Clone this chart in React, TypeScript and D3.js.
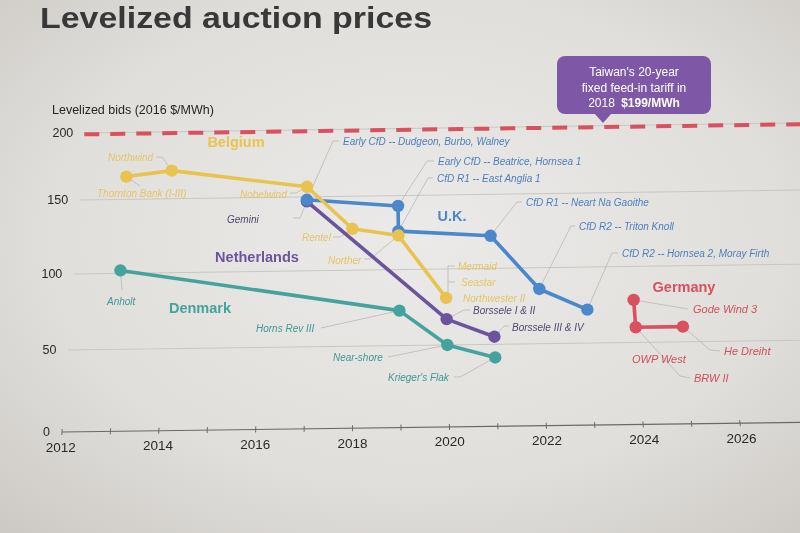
import React from "react";
import * as d3 from "d3";

// ---------- data ----------
const xTickYears = [2012, 2014, 2016, 2018, 2020, 2022, 2024, 2026];
const minorYears = d3.range(2012, 2027);
const yTicks = [0, 50, 100, 150, 200];
const taiwanTariff = 199;

const belgiumYears = [2013, 2014, 2017, 2018, 2019, 2020];
const belgiumValues = [167, 171, 157.5, 128, 123, 81];

const ukYears = [2017, 2019, 2019, 2021, 2022, 2023];
const ukValues = [148, 143, 126, 122, 86, 72];

const nlYears = [2017, 2020, 2021];
const nlValues = [147, 67, 55];

const dkYears = [2013, 2019, 2020, 2021];
const dkValues = [102, 73, 50, 42];

const deYears = [2024, 2024, 2025];
const deValues = [78, 60, 60];

// ---------- style ----------
const FONT = "'Liberation Sans', Arial, Helvetica, sans-serif";
const C = {
  belgium: "#E9C34F",
  belgiumText: "#E3C566",
  uk: "#4A87CB",
  ukText: "#4C7FBE",
  nl: "#6C549D",
  nlText: "#54466F",
  dk: "#44A39D",
  dkText: "#3E9893",
  de: "#D9505F",
  deText: "#D24E5C",
  callout: "#7E58A7",
};

// scales (value -> chart frame), then the photo's perspective
const x = d3.scaleLinear().domain([2012, 2026]).range([62, 740]);
const y = d3.scaleLinear().domain([0, 50, 100, 150, 200]).range([432, 350, 274, 200, 133]);

function proj(X: number, Y: number): [number, number] {
  const sx = X + (432 - Y) * (350 - X) * 0.00026;
  const sy = Y - (X - 62) * 0.013;
  return [sx, sy];
}
const P = (yr: number, v: number) => proj(x(yr), y(v));

type Series = { key: string; years: number[]; values: number[]; color: string };
const series: Series[] = [
  { key: "dk", years: dkYears, values: dkValues, color: C.dk },
  { key: "nl", years: nlYears, values: nlValues, color: C.nl },
  { key: "uk", years: ukYears, values: ukValues, color: C.uk },
  { key: "be", years: belgiumYears, values: belgiumValues, color: C.belgium },
  { key: "de", years: deYears, values: deValues, color: C.de },
];

type Ann = { t: string; lx: number; ly: number; c: string; s?: number; lead?: [number, number][]; k?: string; i?: number };
const anns: Ann[] = [
  { t: "Thornton Bank (I-III)", lx: 97, ly: 193, c: C.belgiumText, lead: [[140, 186]], k: "be", i: 0 },
  { t: "Northwind", lx: 108, ly: 157, c: C.belgiumText, lead: [[156, 157], [162, 157]], k: "be", i: 1 },
  { t: "Nobelwind", lx: 240, ly: 194, c: C.belgiumText, lead: [[290, 193], [296, 193]], k: "be", i: 2 },
  { t: "Rentel", lx: 302, ly: 237, c: C.belgiumText, lead: [[333, 237], [340, 237]], k: "be", i: 3 },
  { t: "Norther", lx: 328, ly: 260, c: C.belgiumText, lead: [[364, 259], [370, 259]], k: "be", i: 4 },
  { t: "Mermaid", lx: 458, ly: 266, c: C.belgiumText },
  { t: "Seastar", lx: 461, ly: 282, c: C.belgiumText },
  { t: "Northwester II", lx: 463, ly: 298.5, c: C.belgiumText },
  { t: "Early CfD -- Dudgeon, Burbo, Walney", lx: 343, ly: 141, c: C.ukText, lead: [[339, 141], [333, 141]], k: "uk", i: 0 },
  { t: "Early CfD -- Beatrice, Hornsea 1", lx: 438, ly: 161, c: C.ukText, lead: [[434, 161], [427, 161]], k: "uk", i: 1 },
  { t: "CfD R1 -- East Anglia 1", lx: 437, ly: 178, c: C.ukText, lead: [[433, 178], [428, 178]], k: "uk", i: 2 },
  { t: "CfD R1 -- Neart Na Gaoithe", lx: 526, ly: 202, c: C.ukText, lead: [[522, 202], [517, 202]], k: "uk", i: 3 },
  { t: "CfD R2 -- Triton Knoll", lx: 579, ly: 226, c: C.ukText, lead: [[575, 226], [571, 226]], k: "uk", i: 4 },
  { t: "CfD R2 -- Hornsea 2, Moray Firth", lx: 622, ly: 253, c: C.ukText, lead: [[618, 253], [612, 253]], k: "uk", i: 5 },
  { t: "Gemini", lx: 227, ly: 219, c: C.nlText, lead: [[293, 218], [300, 218]], k: "nl", i: 0 },
  { t: "Borssele I & II", lx: 473, ly: 310.5, c: C.nlText, lead: [[470, 310], [464, 310]], k: "nl", i: 1 },
  { t: "Borssele III & IV", lx: 512, ly: 327, c: C.nlText, lead: [[509, 326], [504, 326]], k: "nl", i: 2 },
  { t: "Anholt", lx: 107, ly: 301, c: C.dkText, lead: [[122, 290]], k: "dk", i: 0 },
  { t: "Horns Rev III", lx: 256, ly: 328, c: C.dkText, lead: [[321, 328]], k: "dk", i: 1 },
  { t: "Near-shore", lx: 333, ly: 357, c: C.dkText, lead: [[388, 357]], k: "dk", i: 2 },
  { t: "Krieger's Flak", lx: 388, ly: 377, c: C.dkText, lead: [[454, 377], [460, 377]], k: "dk", i: 3 },
  { t: "Gode Wind 3", lx: 693, ly: 309, c: C.deText, s: 11, lead: [[688, 309]], k: "de", i: 0 },
  { t: "OWP West", lx: 632, ly: 359, c: C.deText, s: 11 },
  { t: "BRW II", lx: 694, ly: 378, c: C.deText, s: 11, lead: [[690, 378], [680, 376]], k: "de", i: 1 },
  { t: "He Dreiht", lx: 724, ly: 351, c: C.deText, s: 11, lead: [[720, 351], [710, 350]], k: "de", i: 2 },
];

const countryLabels = [
  { t: "Belgium", cx: 236, cy: 142, c: C.belgium },
  { t: "U.K.", cx: 452, cy: 216, c: C.uk },
  { t: "Netherlands", cx: 257, cy: 257, c: C.nl },
  { t: "Denmark", cx: 200, cy: 308, c: C.dk },
  { t: "Germany", cx: 684, cy: 287, c: C.de },
];

export default function App() {
  const seriesByKey: Record<string, Series> = {};
  series.forEach((s) => (seriesByKey[s.key] = s));

  const line = d3
    .line<[number, number]>()
    .x((d) => proj(x(d[0]), y(d[1]))[0])
    .y((d) => proj(x(d[0]), y(d[1]))[1]);

  const hLine = (v: number, x0: number, x1: number) => {
    const a = proj(x0, y(v));
    const b = proj(x1, y(v));
    return { x1: a[0], y1: a[1], x2: b[0], y2: b[1] };
  };

  const leaderPath = (a: Ann) => {
    if (!a.lead || !a.k) return null;
    const s = seriesByKey[a.k];
    const p = P(s.years[a.i!], s.values[a.i!]);
    const pts: [number, number][] = [...a.lead, p];
    return d3.line()(pts);
  };

  const axis0 = hLine(0, 62, 860);

  return (
    <div style={{ position: "fixed", left: 0, top: 0, width: 800, height: 533 }}>
      <svg width={800} height={533} style={{ display: "block", fontFamily: FONT }}>
        <defs>
          <radialGradient id="bg" cx="52%" cy="45%" r="75%">
            <stop offset="0%" stopColor="#ebeae8" />
            <stop offset="60%" stopColor="#e1dfdc" />
            <stop offset="100%" stopColor="#cdcac5" />
          </radialGradient>
        </defs>
        <rect width={800} height={533} fill="url(#bg)" />

        {/* title */}
        <text x={40} y={28} fontSize={30} fontWeight="bold" fill="#383838" textLength={392} lengthAdjust="spacingAndGlyphs">
          Levelized auction prices
        </text>
        <text x={52} y={110} fontSize={12.5} fill="#262626" dominantBaseline="central">
          Levelized bids (2016 $/MWh)
        </text>

        {/* gridlines */}
        {yTicks.filter((v) => v > 0).map((v) => {
          const l = hLine(v, 62, 860);
          return <line key={"g" + v} {...l} stroke="#c9c7c3" strokeWidth={1} />;
        })}
        {/* x axis */}
        <line {...axis0} stroke="#6a6a6a" strokeWidth={1.2} />
        {minorYears.map((yr) => {
          const a = proj(x(yr), y(0) - 3);
          const b = proj(x(yr), y(0) + 3);
          return <line key={"t" + yr} x1={a[0]} y1={a[1]} x2={b[0]} y2={b[1]} stroke="#6a6a6a" strokeWidth={1} />;
        })}
        {xTickYears.map((yr) => {
          const p = proj(x(yr), 447);
          return (
            <text key={"xl" + yr} x={p[0]} y={p[1]} fontSize={13.5} fill="#2a2a2a" textAnchor="middle" dominantBaseline="central">
              {yr}
            </text>
          );
        })}
        {yTicks.map((v) => {
          const p = proj(50, y(v));
          return (
            <text key={"yl" + v} x={p[0]} y={p[1]} fontSize={12.5} fill="#2a2a2a" textAnchor="end" dominantBaseline="central">
              {v}
            </text>
          );
        })}

        {/* Taiwan FIT dashed line */}
        <line {...hLine(taiwanTariff, 62, 860)} stroke={C.de} strokeWidth={4} strokeDasharray="15 11" />

        {/* callout */}
        <g>
          <rect x={557} y={56} width={154} height={58} rx={8} fill={C.callout} />
          <path d="M594,113 L612,113 L603,123 Z" fill={C.callout} />
          <text x={634} y={72} fontSize={12} fill="#fff" textAnchor="middle" dominantBaseline="central">
            Taiwan's 20-year
          </text>
          <text x={634} y={88} fontSize={12} fill="#fff" textAnchor="middle" dominantBaseline="central">
            fixed feed-in tariff in
          </text>
          <text x={634} y={103} fontSize={12} fill="#fff" textAnchor="middle" dominantBaseline="central">
            2018 <tspan fontWeight="bold" dx={3}>$199/MWh</tspan>
          </text>
        </g>

        {/* leaders */}
        {anns.map((a, i) => {
          const d = leaderPath(a);
          return d ? <path key={"ld" + i} d={d} fill="none" stroke="#b9b7b3" strokeWidth={0.8} /> : null;
        })}
        <path d="M455,266 L448,266 L448,292 M448,282 L455,282" fill="none" stroke="#b9b7b3" strokeWidth={0.8} />

        {/* series */}
        {series.map((s) => {
          const pts = s.years.map((yr, i) => [yr, s.values[i]] as [number, number]);
          return (
            <g key={s.key}>
              <path d={line(pts) || ""} fill="none" stroke={s.color} strokeWidth={3.6} strokeLinejoin="round" strokeLinecap="round" />
              {pts.map((d, i) => {
                const p = P(d[0], d[1]);
                return <circle key={i} cx={p[0]} cy={p[1]} r={6.2} fill={s.color} />;
              })}
            </g>
          );
        })}

        {/* annotation labels */}
        {anns.map((a, i) => (
          <text key={"an" + i} x={a.lx} y={a.ly} fontSize={a.s || 10} fontStyle="italic" fill={a.c} dominantBaseline="central">
            {a.t}
          </text>
        ))}
        {countryLabels.map((c) => (
          <text key={c.t} x={c.cx} y={c.cy} fontSize={14.5} fontWeight="bold" fill={c.c} textAnchor="middle" dominantBaseline="central">
            {c.t}
          </text>
        ))}
      </svg>
    </div>
  );
}
